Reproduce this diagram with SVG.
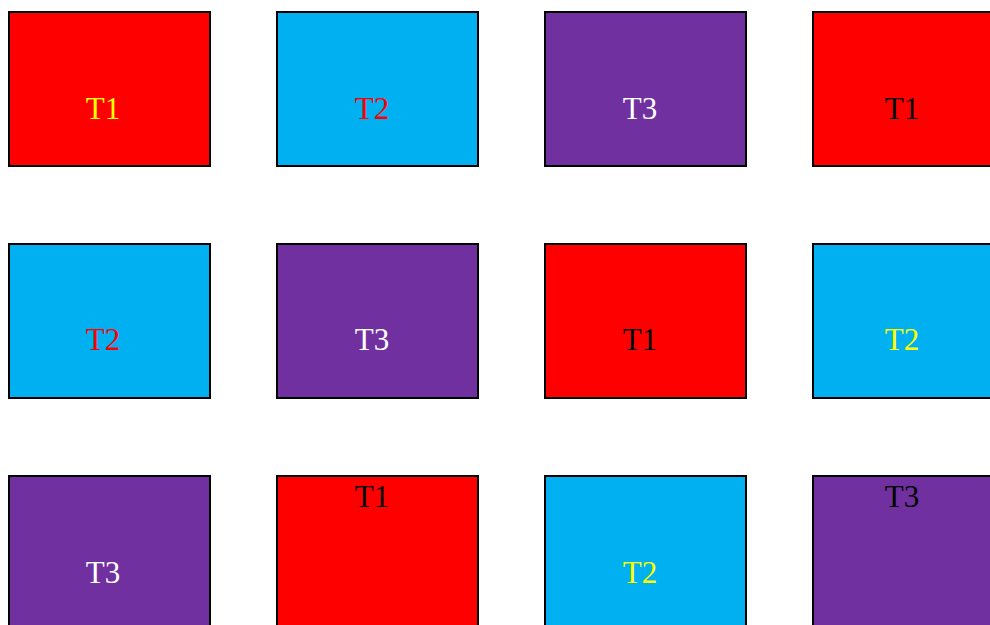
<svg xmlns="http://www.w3.org/2000/svg" width="990" height="625" viewBox="0 0 990 625">
<style>
rect{stroke:#000;stroke-width:2}
.r{fill:#FF0000}.c{fill:#00B0F0}.p{fill:#7030A0}
text{font-family:"Liberation Serif","Times New Roman",serif;font-size:31px;text-anchor:middle}
.ty{fill:#FFFF00}.tr{fill:#FF0000}.tw{fill:#FFFFFF}.tk{fill:#000000}
</style>
<rect width="990" height="625" fill="#fff" style="stroke:none"/>
<g id="n11"><rect class="r" x="9" y="12" width="201" height="154"/><text class="ty" x="103" y="119">T1</text></g>
<g id="n12"><rect class="c" x="277" y="12" width="201" height="154"/><text class="tr" x="372" y="119">T2</text></g>
<g id="n13"><rect class="p" x="545" y="12" width="201" height="154"/><text class="tw" x="640" y="119">T3</text></g>
<g id="n14"><rect class="r" x="813" y="12" width="201" height="154"/><text class="tk" x="902" y="119">T1</text></g>
<g id="n21"><rect class="c" x="9" y="244" width="201" height="154"/><text class="tr" x="103" y="350">T2</text></g>
<g id="n22"><rect class="p" x="277" y="244" width="201" height="154"/><text class="tw" x="372" y="350">T3</text></g>
<g id="n23"><rect class="r" x="545" y="244" width="201" height="154"/><text class="tk" x="640" y="350">T1</text></g>
<g id="n24"><rect class="c" x="813" y="244" width="201" height="154"/><text class="ty" x="902" y="350">T2</text></g>
<g id="n31"><rect class="p" x="9" y="476" width="201" height="154"/><text class="tw" x="103" y="583">T3</text></g>
<g id="n32"><rect class="r" x="277" y="476" width="201" height="154"/><text class="tk" x="372" y="507">T1</text></g>
<g id="n33"><rect class="c" x="545" y="476" width="201" height="154"/><text class="ty" x="640" y="583">T2</text></g>
<g id="n34"><rect class="p" x="813" y="476" width="201" height="154"/><text class="tk" x="902" y="507">T3</text></g>
<g id="connectors"></g>
</svg>
